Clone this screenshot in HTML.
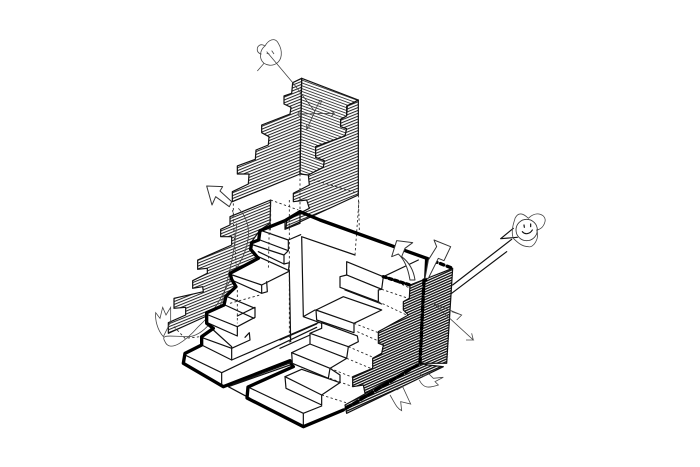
<!DOCTYPE html>
<html><head><meta charset="utf-8"><style>
html,body{margin:0;padding:0;background:#fff;width:700px;height:467px;overflow:hidden}
svg{display:block;filter:blur(.35px)}
.l{fill:none;stroke:#111;stroke-width:3.6;stroke-linejoin:round;stroke-linecap:round}
.w{fill:#fff;stroke:#111;stroke-width:3.6;stroke-linejoin:round}
.t{fill:none;stroke:#000;stroke-width:10;stroke-linejoin:round;stroke-linecap:round}
.d{fill:none;stroke:#222;stroke-width:2.6;stroke-dasharray:7 7}
.g{fill:none;stroke:#444;stroke-width:2.4}
.o{fill:#fff;stroke:#333;stroke-width:3;stroke-linejoin:round}
</style></head><body>
<svg width="700" height="467" viewBox="0 0 700 467" xmlns="http://www.w3.org/2000/svg">
<defs>
<pattern id="up" width="24" height="8" patternUnits="userSpaceOnUse" patternTransform="rotate(-22)"><rect width="24" height="8" fill="#fff"/><rect width="24" height="3" fill="#222"/></pattern>
<pattern id="dn" width="24" height="8" patternUnits="userSpaceOnUse" patternTransform="rotate(20)"><rect width="24" height="8" fill="#fff"/><rect width="24" height="2.6" fill="#333"/></pattern>
<pattern id="dense" width="24" height="7" patternUnits="userSpaceOnUse" patternTransform="rotate(-24)"><rect width="24" height="7" fill="#fff"/><rect width="24" height="4" fill="#111"/></pattern>
</defs>

<g transform="translate(150,30) scale(.33333)">
<path class="l" style="fill:url(#up)" d="M455,145L428,158L425,190L402,198L402,222L423,232L420,252L335,285L335,308L357,320L355,345L318,360L316,388L262,408L262,432L297,432L295,462L247,485L247,515L450,432Z"/>
<path class="l" style="fill:url(#dn)" d="M455,145L625,210L590,228L590,258L572,268L572,290L590,296L585,318L497,350L497,382L523,392L520,412L475,435L450,432Z"/>
<path class="l" style="fill:url(#up)" d="M625,210L592,228L590,258L572,268L572,290L590,296L585,318L497,350L497,382L523,392L520,412L475,435L478,465L430,490L430,515L470,510L478,535L410,570L408,595L625,495Z"/>
<path class="l" d="M455,145L450,432"/>
<path class="d" d="M450,432L450,560M475,445L625,490M625,495L628,600M362,510L445,540M250,520L250,570"/>
<path class="g" d="M350,65L430,160L495,245M445,252L550,250M540,240L553,250L543,260M510,210L470,298M470,282L470,298L482,288M500,210L515,212L510,225"/>
<circle cx="450" cy="252" r="6" class="g"/>
<path class="g" d="M322,123L342,100C325,85 330,60 345,48C355,30 375,20 385,40C400,65 395,90 380,100C365,110 350,105 342,100M345,48C330,38 320,50 322,62C325,72 335,72 335,72M350,70L358,72M365,62L372,72"/>
<path class="o" d="M245,515L210,483L218,470L170,468L186,525L197,500L238,530Z"/>
</g>

<g transform="translate(150,190) scale(.33333)">
<path class="l" style="fill:url(#up)" d="M362,30L240,80L240,105L212,118L212,140L245,140L245,165L143,210L143,238L172,235L172,250L128,272L128,295L158,290L160,305L72,325L72,355L107,352L107,375L55,398L55,430L170,378L228,345L258,290L240,262L325,205L305,155L330,120L360,100Z"/>
<path class="d" d="M362,30L362,95L355,250L340,305L240,350M248,60L262,280L262,400M72,410L105,445L150,440"/>
<path class="g" d="M265,55C310,100 305,170 250,250C220,310 200,360 145,410C110,450 60,490 45,455C30,430 60,440 120,440C170,430 210,370 225,300C240,240 255,180 260,100"/>
<path class="g" d="M38,352L48,375L62,352L62,395L40,440C22,420 15,390 17,368L30,385Z"/>

<path class="w" d="M105,495L215,548L245,530L500,405L500,400L455,385L420,300L420,150L335,122L326,150L305,160L302,178L325,205L245,250L258,290L228,318L222,345L170,368L170,400L190,415L155,440L155,465Z" style="stroke:none"/>
<path class="l" d="M105,495L215,548L215,590M215,548L500,412M245,510L505,398"/>
<path class="l" d="M190,420L245,470L245,510L155,465M157,443L245,475L300,450L298,428L285,442"/>
<path class="l" d="M175,375L262,410L262,438L172,398M262,410L315,382L315,352L262,378M232,320L315,355M225,345L312,385"/>
<path class="l" d="M247,255L335,285L335,310L245,270M335,310L352,305L350,275M335,285L415,245L418,218L402,222"/>
<path class="l" d="M310,165L402,195L402,222L325,185M325,200L418,242M402,195L415,182L415,150L335,122M330,150L415,182"/>
<path class="l" d="M418,240L422,455M415,150L452,134"/>
<path class="d" d="M360,30L362,100M358,100L355,240M262,300L262,400M240,340L330,315"/>

<path class="t" d="M450,65L405,92L330,122L326,150L305,158L302,178L325,205L240,250L245,268L258,290L228,318L222,345L170,368L170,400L190,415L155,440L155,465L105,490L100,520L220,590L420,512L428,530"/>
<path class="l" d="M235,590L420,525M300,625L235,590M250,582L425,517"/>
<path class="l" d="M405,92L405,118L450,100L450,68"/>
</g>

<g transform="translate(280,200) scale(.33333)">
<path class="l" style="fill:url(#dense)" d="M518,205L390,255L388,295L370,305L370,330L385,345L295,395L295,430L310,435L305,460L278,475L278,505L218,530L218,560L250,555L255,580L420,490L500,490Z"/>
<path class="l" style="fill:url(#dense)" d="M195,615L200,640L490,500L445,495L420,490Z"/>

<path class="l" d="M65,110L70,350L105,330M65,110L225,165M70,350L130,372M0,420L110,372M0,445L90,405"/>
<path class="l" style="fill:#fff" d="M200,185L310,230L305,268L200,225Z"/>
<path class="l" style="fill:#fff" d="M180,230L200,225L305,268L295,270L295,305L180,262Z"/>
<path class="l" d="M195,270L305,312M310,230L415,180"/>
<path class="l" style="fill:#fff" d="M108,330L190,290L305,330L222,370L222,398L110,360Z"/>
<path class="l" d="M108,330L222,370"/>
<path class="l" style="fill:#fff" d="M90,400L125,385L125,368L232,408L235,425L205,440L200,475L90,435Z"/>
<path class="l" d="M90,400L205,440"/>
<path class="l" style="fill:#fff" d="M35,458L90,432L200,475L150,505L145,535L37,490Z"/>
<path class="l" d="M35,458L150,505M150,505L180,525L180,548"/>
<path class="l" style="fill:#fff" d="M15,530L65,508L180,548L125,585L125,615L18,565Z"/>
<path class="l" d="M15,530L125,585"/>
<path class="l" d="M-96,561L70,640L70,680M70,640L125,618"/>
<path class="d" d="M225,165L237,0M28,0L28,430M222,370L295,398M232,395L300,425M205,440L275,470M200,475L272,505M150,505L218,532M150,535L218,560M125,585L198,608M305,268L385,295M295,305L380,345M315,230L385,262"/>
<path class="t" style="stroke-dasharray:9 9" d="M310,230L390,255"/>
<path class="t" d="M60,35L120,60L440,175L437,240"/>
<path class="t" style="stroke-dasharray:11 11" d="M440,175L518,205"/>
<path class="t" style="stroke-dasharray:16 10" d="M432,240L420,490L190,630"/>
<path class="t" d="M40,500L-96,561L-99,594L70,680L190,630"/>

<path class="o" d="M405,240C400,205 385,185 365,170L375,145L398,128L350,122L335,170L355,162C375,180 385,210 390,240Z"/>
<path class="o" d="M445,235L475,175L492,182L512,140L462,120L470,140L445,180L435,235Z"/>
<path class="l" d="M518,255L695,118M515,280L680,155M662,116L700,85M662,116L712,112"/>
<path class="g" d="M515,335L545,345L530,360M545,345L460,310M460,310L580,420L558,420M580,420L575,400"/>
<path class="g" d="M700,115C690,90 705,60 705,55C715,35 730,40 745,55C770,30 800,45 795,65C790,85 775,90 770,90C780,115 760,145 745,140C725,140 710,125 700,115Z"/>
<circle cx="740" cy="90" r="32" fill="none" stroke="#333" stroke-width="2.5"/>
<path class="l" d="M727,95C735,105 750,102 757,90M732,75L733,82M752,72L752,80"/>
<path class="g" d="M418,540C430,565 445,565 475,555L465,545L490,532L460,535L445,520L430,530L418,520"/>
<path class="g" d="M330,585C345,610 350,625 365,632L362,605L392,612L368,560L350,570"/>
</g>
</svg>
</body></html>
